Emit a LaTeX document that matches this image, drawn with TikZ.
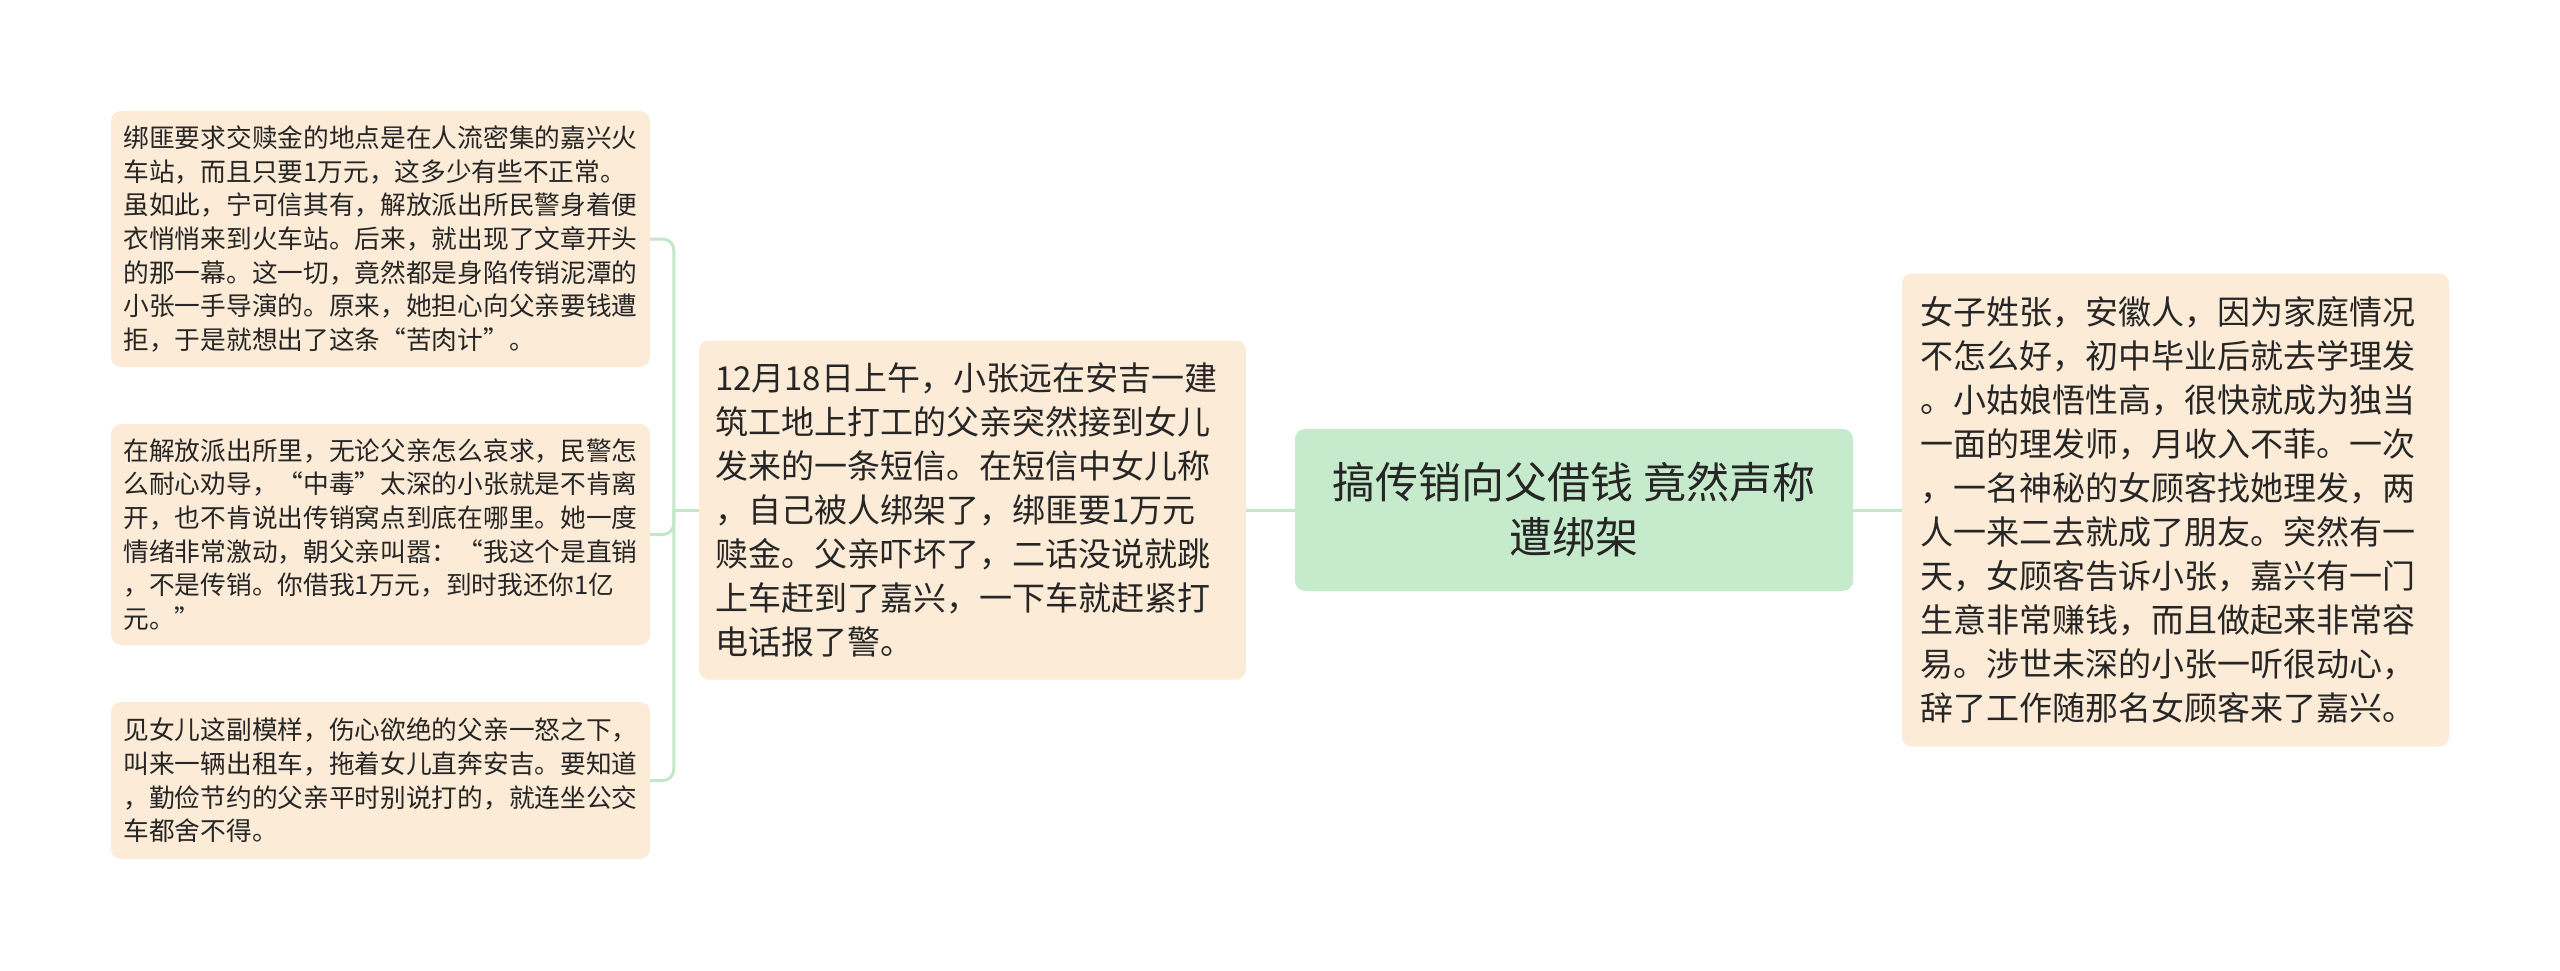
\documentclass[tikz,border=0pt]{standalone}
\usepackage{fontspec}
\setmainfont{Noto Sans CJK SC}
\usetikzlibrary{positioning}
\definecolor{peach}{HTML}{FCEBD6}
\definecolor{mint}{HTML}{C6EBCC}
\definecolor{twig}{HTML}{C2E8C9}
\definecolor{ink}{HTML}{262626}
\tikzset{root/.style = {fill=mint, rounded corners=10pt, text=ink, align=center,
                        minimum width=558pt, minimum height=162pt,
                        font=\fontsize{43}{55}\selectfont},
         topic/.style = {fill=peach, rounded corners=10pt, text=ink, align=left,
                         font=\fontsize{33}{44}\selectfont},
         leaf/.style = {fill=peach, rounded corners=10pt, text=ink, align=left,
                        text width=514pt, inner xsep=12.5pt,
                        font=\fontsize{25.7}{33.7}\selectfont},
         twig/.style = {draw=twig, line width=3pt}}

\begin{document}
\begin{tikzpicture}[x=1pt, y=-1pt]
    \useasboundingbox (0, 0) rectangle (2560, 971);

    \node [root] (hoax) at (1574, 510) {搞传销向父借钱 竟然声称\\遭绑架};

    \node [topic, text width=515pt, inner xsep=16pt, minimum height=339pt]
      (call) at (972.5, 510) {12月18日上午，小张远在安吉一建\\筑工地上打工的父亲突然接到女儿\\发来的一条短信。在短信中女儿称\\，自己被人绑架了，绑匪要1万元\\赎金。父亲吓坏了，二话没说就跳\\上车赶到了嘉兴，一下车就赶紧打\\电话报了警。};

    \node [topic, text width=511pt, inner xsep=18pt, minimum height=473pt]
      (story) at (2175.5, 510) {女子姓张，安徽人，因为家庭情况\\不怎么好，初中毕业后就去学理发\\。小姑娘悟性高，很快就成为独当\\一面的理发师，月收入不菲。一次\\，一名神秘的女顾客找她理发，两\\人一来二去就成了朋友。突然有一\\天，女顾客告诉小张，嘉兴有一门\\生意非常赚钱，而且做起来非常容\\易。涉世未深的小张一听很动心，\\辞了工作随那名女顾客来了嘉兴。};

    \node [leaf, minimum height=256pt] (ransom) at (380.5, 239) {绑匪要求交赎金的地点是在人流密集的嘉兴火\\车站，而且只要1万元，这多少有些不正常。\\虽如此，宁可信其有，解放派出所民警身着便\\衣悄悄来到火车站。后来，就出现了文章开头\\的那一幕。这一切，竟然都是身陷传销泥潭的\\小张一手导演的。原来，她担心向父亲要钱遭\\拒，于是就想出了这条“苦肉计”。};

    \node [leaf, minimum height=221pt] (station) at (380.5, 534.5) {在解放派出所里，无论父亲怎么哀求，民警怎\\么耐心劝导，“中毒”太深的小张就是不肯离\\开，也不肯说出传销窝点到底在哪里。她一度\\情绪非常激动，朝父亲叫嚣：“我这个是直销\\，不是传销。你借我1万元，到时我还你1亿\\元。”};

    \node [leaf, minimum height=157pt] (taxi) at (380.5, 780.5) {见女儿这副模样，伤心欲绝的父亲一怒之下，\\叫来一辆出租车，拖着女儿直奔安吉。要知道\\，勤俭节约的父亲平时别说打的，就连坐公交\\车都舍不得。};

    \draw [twig] (hoax.west) -- (call.east);
    \draw [twig] (hoax.east) -- (story.west);

    \coordinate [left=25pt of call.west] (fork);
    \draw [twig] (call.west) -- (fork);
    \foreach \leafname in {ransom, station, taxi} {
      \draw [twig, rounded corners=11pt] (fork) |- (\leafname.east);
    }
  \end{tikzpicture}
\end{document}
